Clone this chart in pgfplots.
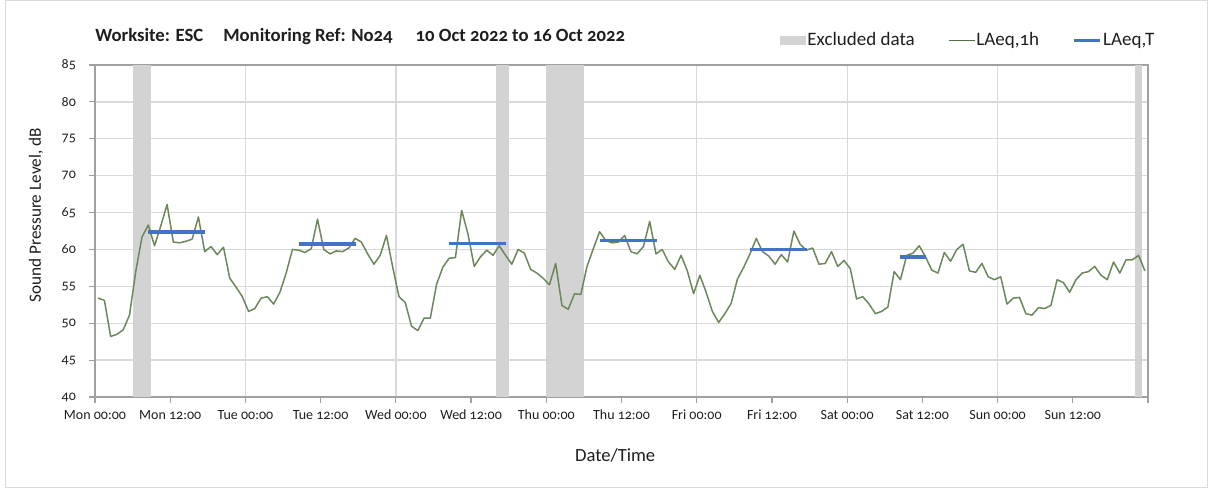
\documentclass[border=0pt]{standalone}
\usepackage{fontspec}
\setmainfont{Carlito}[Numbers=OldStyle]
\usepackage{pgfplots}
\usepackage{pgfplotstable}
\pgfplotsset{compat=1.18}
\definecolor{linegreen}{RGB}{108,136,90}
\definecolor{blueT}{RGB}{68,114,196}
\definecolor{exclgray}{RGB}{211,211,211}
\definecolor{gridgray}{RGB}{217,217,217}
\definecolor{axisgray}{RGB}{160,160,160}
\definecolor{framegray}{RGB}{217,217,217}
\definecolor{textcol}{RGB}{30,30,30}

\pgfplotstableread{
x y
0.5 53.4
1.5 53.1
2.5 48.2
3.5 48.5
4.5 49.1
5.5 51.1
6.5 57.0
7.5 61.7
8.5 63.3
9.5 60.5
10.5 63.2
11.5 66.1
12.5 61.0
13.5 60.9
14.5 61.1
15.5 61.4
16.5 64.4
17.5 59.7
18.5 60.4
19.5 59.3
20.5 60.3
21.5 56.1
22.5 54.9
23.5 53.6
24.5 51.6
25.5 52.0
26.5 53.4
27.5 53.6
28.5 52.6
29.5 54.2
30.5 56.8
31.5 60.0
32.5 59.9
33.5 59.6
34.5 60.1
35.5 64.1
36.5 60.0
37.5 59.4
38.5 59.8
39.5 59.7
40.5 60.2
41.5 61.5
42.5 61.0
43.5 59.4
44.5 58.0
45.5 59.2
46.5 61.9
47.5 57.6
48.5 53.6
49.5 52.8
50.5 49.6
51.5 49.0
52.5 50.7
53.5 50.7
54.5 55.3
55.5 57.6
56.5 58.8
57.5 58.9
58.5 65.3
59.5 62.1
60.5 57.7
61.5 59.0
62.5 59.9
63.5 59.2
64.5 60.5
65.5 59.2
66.5 58.0
67.5 60.0
68.5 59.5
69.5 57.3
70.5 56.8
71.5 56.1
72.5 55.2
73.5 58.1
74.5 52.4
75.5 51.9
76.5 54.0
77.5 53.9
78.5 57.7
79.5 60.1
80.5 62.4
81.5 61.2
82.5 60.9
83.5 61.0
84.5 61.9
85.5 59.7
86.5 59.4
87.5 60.4
88.5 63.8
89.5 59.4
90.5 60.0
91.5 58.3
92.5 57.3
93.5 59.2
94.5 57.1
95.5 54.0
96.5 56.5
97.5 54.2
98.5 51.6
99.5 50.1
100.5 51.3
101.5 52.7
102.5 56.0
103.5 57.6
104.5 59.4
105.5 61.5
106.5 59.7
107.5 59.1
108.5 58.0
109.5 59.3
110.5 58.3
111.5 62.5
112.5 60.7
113.5 59.9
114.5 60.2
115.5 58.0
116.5 58.1
117.5 59.7
118.5 57.7
119.5 58.5
120.5 57.4
121.5 53.3
122.5 53.6
123.5 52.6
124.5 51.3
125.5 51.6
126.5 52.2
127.5 57.0
128.5 55.9
129.5 59.2
130.5 59.5
131.5 60.5
132.5 59.0
133.5 57.2
134.5 56.8
135.5 59.6
136.5 58.4
137.5 60.0
138.5 60.7
139.5 57.1
140.5 56.9
141.5 58.1
142.5 56.3
143.5 55.9
144.5 56.3
145.5 52.6
146.5 53.4
147.5 53.5
148.5 51.3
149.5 51.1
150.5 52.1
151.5 52.0
152.5 52.4
153.5 55.9
154.5 55.5
155.5 54.2
156.5 55.9
157.5 56.8
158.5 57.0
159.5 57.7
160.5 56.5
161.5 55.9
162.5 58.3
163.5 56.8
164.5 58.6
165.5 58.6
166.5 59.2
167.5 57.1
}\laeq

\begin{document}
\begin{tikzpicture}
\begin{axis}[
  at={(47.5pt,45.5pt)}, anchor=south west,
  scale only axis, width=526.5pt, height=166pt,
  xmin=0, xmax=168, ymin=40, ymax=85,
  xtick={0,12,...,168},
  xticklabels={Mon 00:00,Mon 12:00,Tue 00:00,Tue 12:00,Wed 00:00,Wed 12:00,Thu 00:00,Thu 12:00,Fri 00:00,Fri 12:00,Sat 00:00,Sat 12:00,Sun 00:00,Sun 12:00,{}},
  minor xtick={24,48,...,144},
  ytick={40,45,...,85},
  xmajorgrids=false, xminorgrids=true, ymajorgrids=true,
  grid style={gridgray, line width=0.65pt},
  minor grid style={gridgray, line width=0.65pt},
  axis line style={axisgray, line width=0.6pt},
  tick style={axisgray, line width=0.6pt},
  tick align=outside, major tick length=3pt, minor tick length=0pt,
  xtick pos=bottom, ytick pos=left,
  /pgf/number format/assume math mode=true,
  ticklabel style={font=\fontsize{7}{8}\selectfont, text=textcol},
  yticklabel style={xshift=-3pt},
  xlabel={Date/Time},
  ylabel={Sound Pressure Level, dB},
  xlabel style={font=\fontsize{9.3}{11}\selectfont, text=textcol, at={(rel axis cs:0.494,0)}, anchor=center, yshift=-29pt},
  ylabel style={font=\fontsize{8.6}{10}\selectfont, text=textcol, at={(rel axis cs:-0.056,0.547)}, anchor=center},
  legend style={draw=none, fill=none, inner sep=0pt, at={(1.0075,1.0735)}, anchor=east,
    font=\fontsize{9.5}{11}\selectfont, text=textcol, nodes={inner sep=0.6pt},
    /tikz/every even column/.append style={column sep=16pt}},
  legend columns=3,
]
\addplot[fill=exclgray, draw=none,
  legend image code/.code={\fill[exclgray] (0pt,-2.4pt) rectangle (13pt,2.4pt);}]
  coordinates {(6,40) (6,85) (9,85) (9,40)};
\addlegendentry{Excluded data}
\addplot[fill=exclgray, draw=none, forget plot]
  coordinates {(64,40) (64,85) (66,85) (66,40)};
\addplot[fill=exclgray, draw=none, forget plot]
  coordinates {(72,40) (72,85) (78,85) (78,40)};
\addplot[fill=exclgray, draw=none, forget plot]
  coordinates {(166,40) (166,85) (167,85) (167,40)};
\addplot[linegreen, line width=0.75pt, line join=round,
  legend image code/.code={\draw[linegreen!80!black, line width=0.6pt] (0pt,0pt) -- (13pt,0pt);}]
  table[x=x, y=y] {\laeq};
\addlegendentry{LAeq,1h}
\addplot[blueT, line width=1.8pt, unbounded coords=jump,
  legend image code/.code={\draw[blueT, line width=1.8pt] (0pt,0pt) -- (13pt,0pt);}]
  coordinates {(8.5,62.4) (17.6,62.4) (17.6,nan)
    (32.5,60.7) (41.6,60.7) (41.6,nan)
    (56.5,60.8) (65.6,60.8) (65.6,nan)
    (80.5,61.2) (89.6,61.2) (89.6,nan)
    (104.5,60.0) (113.6,60.0) (113.6,nan)
    (128.5,59.0) (132.6,59.0)};
\addlegendentry{LAeq,T}
\end{axis}
\node[anchor=base west, inner sep=0pt, text=textcol, font=\bfseries\fontsize{9.35}{11}\selectfont]
  at (47.5pt,223pt) {Worksite: ESC\hspace{10pt}Monitoring Ref: No24\hspace{11.5pt}10 Oct 2022 to 16 Oct 2022};
\draw[framegray, line width=0.5pt] (2.75pt,0.25pt) rectangle (603.75pt,243.75pt);
\useasboundingbox (0,0) rectangle (604pt,244pt);
\end{tikzpicture}
\end{document}
